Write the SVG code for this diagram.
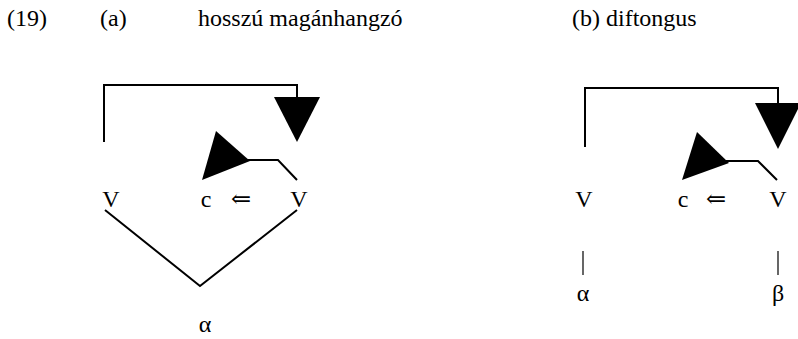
<svg xmlns="http://www.w3.org/2000/svg" width="798" height="339" viewBox="0 0 798 339">
<style>
text{font-family:"Liberation Serif","DejaVu Serif",serif;font-size:24px;fill:#000}
.m{text-anchor:middle}
.ln{fill:none;stroke:#000;stroke-width:2}
.thin{fill:none;stroke:#000;stroke-width:1.2}
.tri{fill:#000;stroke:none}
</style>
<rect width="798" height="339" fill="#fff"/>
<g id="title">
<text x="7" y="26">(19)</text>
<text x="100" y="26">(a)</text>
<text x="198" y="26">hosszú magánhangzó</text>
<text x="572" y="26">(b) diftongus</text>
</g>
<g id="connectors">
<polyline class="ln" points="104,142 104,85 297,85 297,98"/>
<polygon class="tri" points="274,97 320,97 297,142"/>
<polyline class="ln" points="246,160 278,160 297,180"/>
<polygon class="tri" points="216,131 250,161 202,180"/>
<polyline class="ln" points="105,210 200,286 297,210"/>
<polyline class="ln" points="585,147 585,88 778,88 778,104"/>
<polygon class="tri" points="755,103 801,103 778,149"/>
<polyline class="ln" points="726,161 758,161 777,180"/>
<polygon class="tri" points="697,132 729,163 682,180"/>
<line class="thin" x1="583" y1="251" x2="583" y2="275"/>
<line class="thin" x1="778" y1="251" x2="778" y2="275"/>
</g>
<g id="nodeA">
<text class="m" x="111" y="207">V</text>
<text class="m" x="206" y="207">c</text>
<text class="m" x="241" y="207">⇐</text>
<text class="m" x="299" y="207">V</text>
<text class="m" x="205" y="332">α</text>
</g>
<g id="nodeB">
<text class="m" x="584" y="207">V</text>
<text class="m" x="683" y="207">c</text>
<text class="m" x="716" y="207">⇐</text>
<text class="m" x="778" y="207">V</text>
<text class="m" x="583" y="301">α</text>
<text class="m" x="778" y="301">β</text>
</g>
</svg>
